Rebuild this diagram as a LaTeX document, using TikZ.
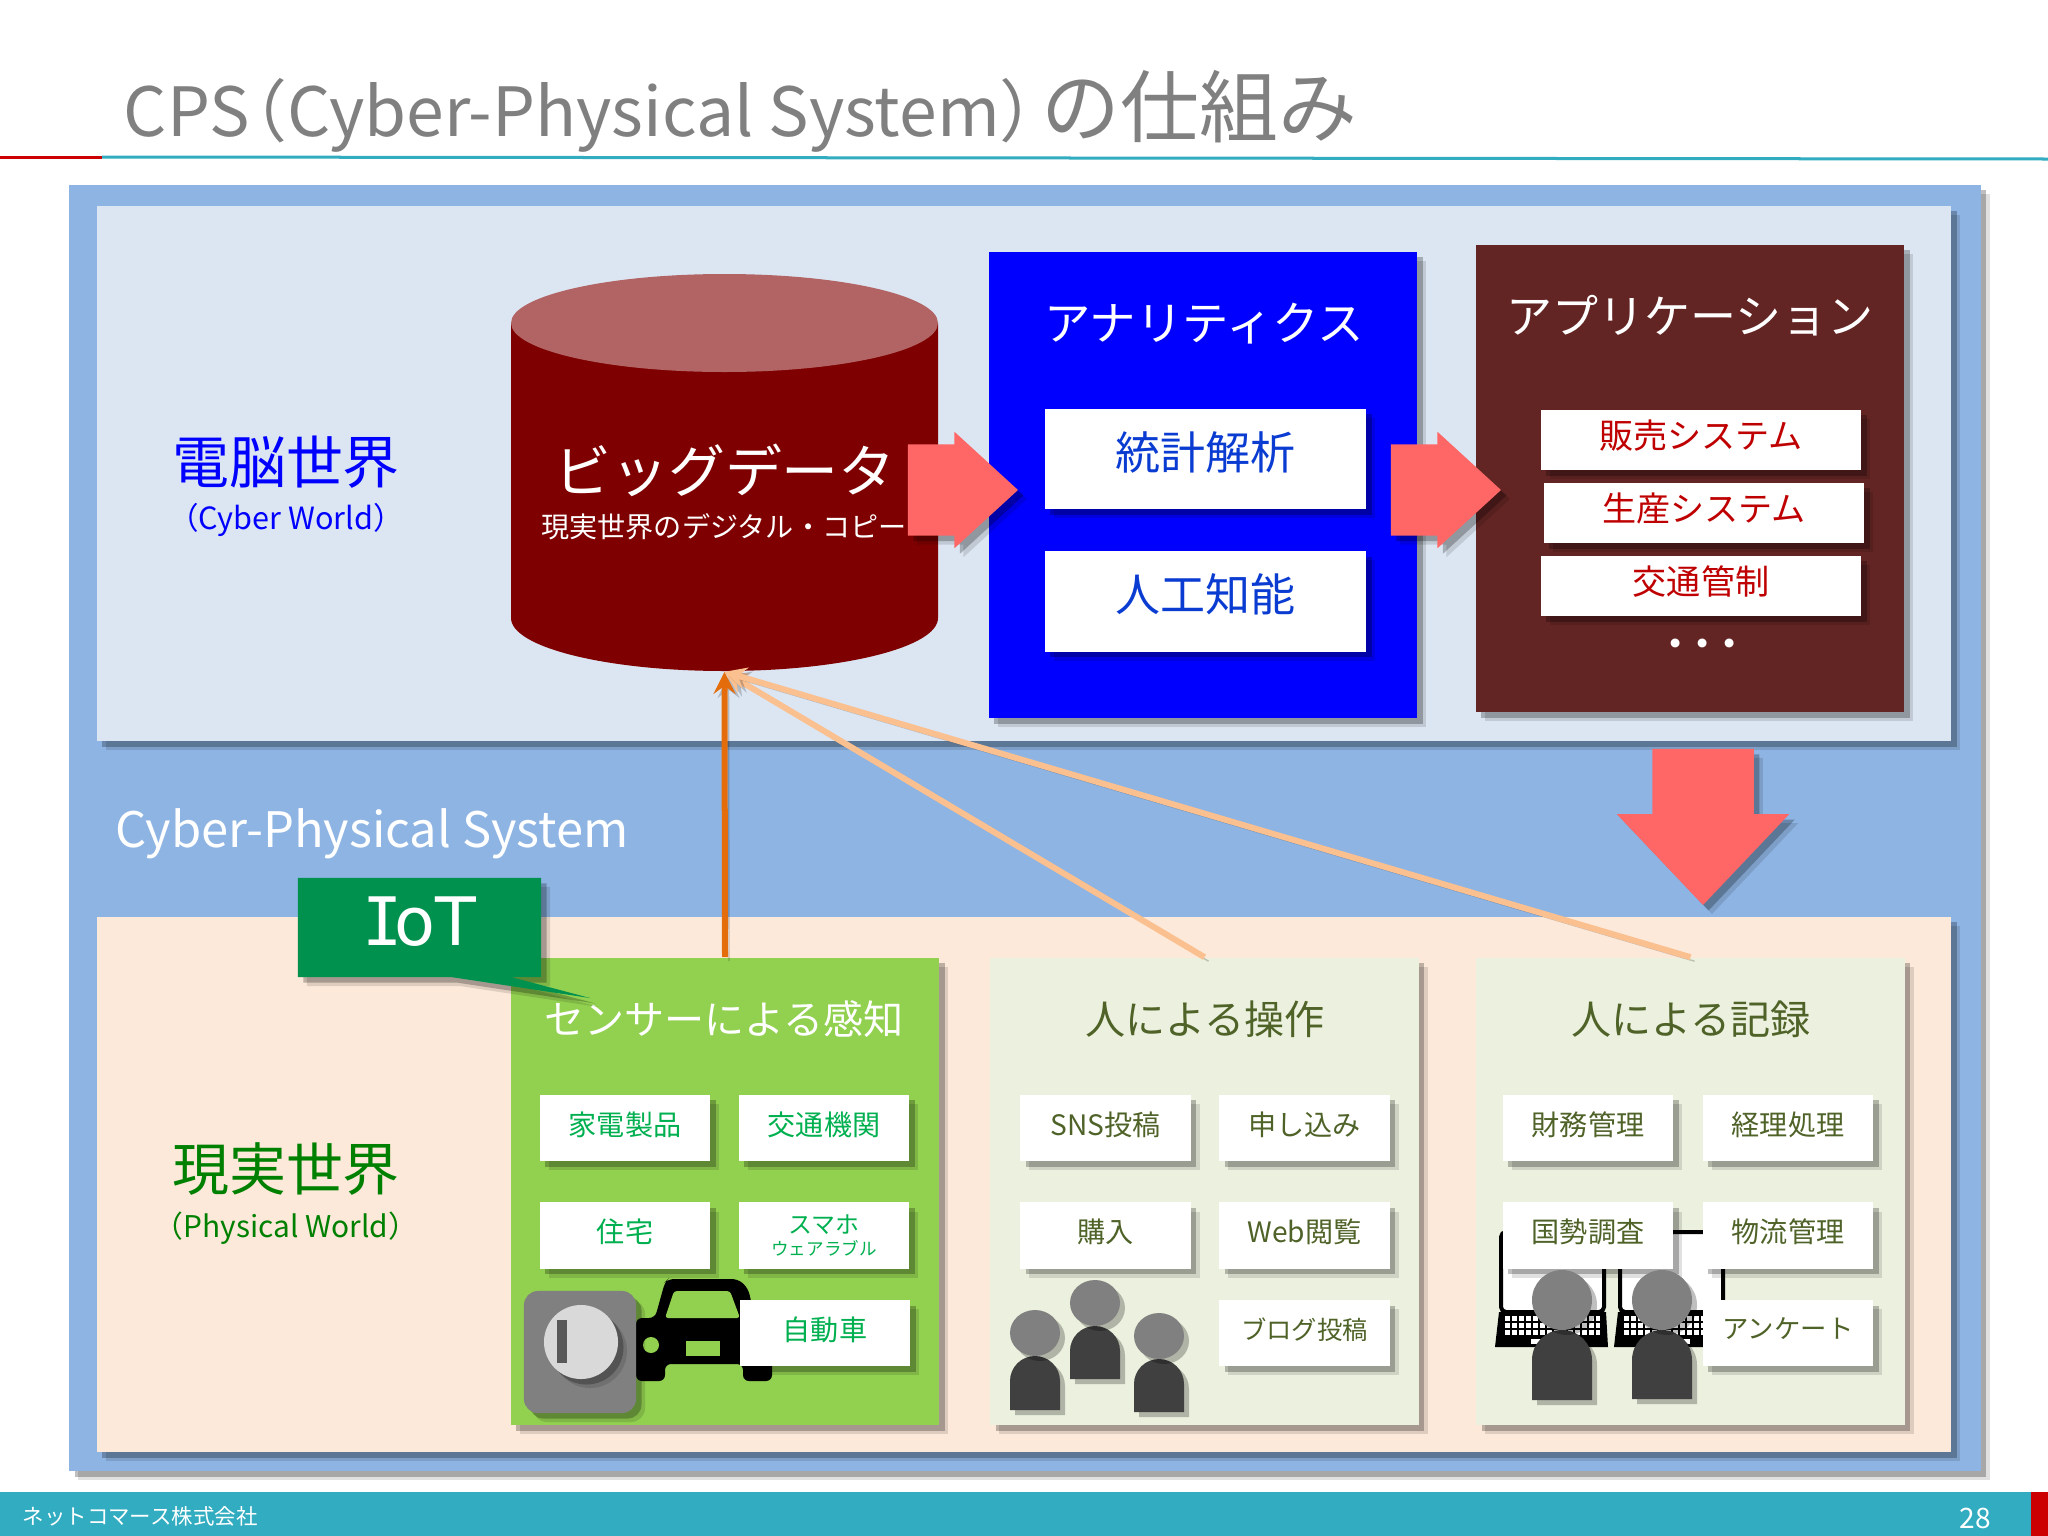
\documentclass[tikz,border=0pt]{standalone}
\usepackage{fontspec}
\setmainfont{Noto Sans CJK JP}
\newfontfamily\monoi{DejaVu Sans Mono}
\newfontfamily\verd{DejaVu Sans}
\usetikzlibrary{shapes.arrows,shapes.callouts,shadows}
\newcommand{\fsz}[1]{\fontsize{#1}{#1}\selectfont}
\definecolor{outerblue}{HTML}{8EB4E3}
\definecolor{cyberbg}{HTML}{DCE6F2}
\definecolor{physbg}{HTML}{FDE9D9}
\definecolor{sensorgreen}{HTML}{92D050}
\definecolor{humanbg}{HTML}{EBF1DE}
\definecolor{humantext}{HTML}{4F6228}
\definecolor{iotgreen}{HTML}{00914F}
\definecolor{itemgreen}{HTML}{00B050}
\definecolor{appbrown}{HTML}{632523}
\definecolor{dbred}{HTML}{7F0000}
\definecolor{dbtop}{HTML}{B26464}
\definecolor{flowred}{HTML}{FF6666}
\definecolor{bandteal}{HTML}{31ACC0}
\definecolor{sensororange}{HTML}{E46C0A}
\definecolor{humanorange}{HTML}{FAC090}
\definecolor{statblue}{HTML}{0A3CD2}
\begin{document}
\begin{tikzpicture}[x=0.01cm,y=-0.01cm,>=stealth]
        \tikzset{softshadow/.style={drop shadow={shadow xshift=0.09cm,shadow yshift=-0.09cm,fill=black,opacity=0.12}, drop shadow={shadow xshift=0.055cm,shadow yshift=-0.055cm,fill=black,opacity=0.25}}}
        \tikzset{linkshadow/.style={preaction={draw=black, opacity=0.2, transform canvas={xshift=0.04cm,yshift=-0.04cm}}}}
        \tikzset{panel/.style={minimum width=4.28cm, minimum height=4.67cm, inner sep=0pt, softshadow}}
        \tikzset{item/.style={fill=white, minimum width=1.70cm, minimum height=0.66cm, inner sep=0pt, align=center, font=\fsz{8}, text depth=2.7pt, softshadow}}
        \tikzset{bigbox/.style={fill=white, minimum width=3.21cm, minimum height=1.00cm, inner sep=0pt, text=statblue, font=\fsz{12.8}, text depth=5pt, softshadow}}
        \tikzset{appitem/.style={fill=white, minimum width=3.20cm, minimum height=0.60cm, inner sep=0pt, text=red!75!black, font=\fsz{9.7}, text depth=3.5pt, softshadow}}
        \tikzset{world/.style={minimum width=18.53cm, minimum height=5.35cm, inner sep=0pt, softshadow}}
        \tikzset{flow/.style={single arrow, fill=flowred, anchor=tip, softshadow}}
        \tikzset{person/.style={fill=black!75}}

        \fill[white] (0,0) rectangle (2048,1536);
        \useasboundingbox (0,0) rectangle (2048,1536);

        % title and rule
        \node[anchor=base west, inner sep=0pt, text=black!50, font=\fsz{19.3}] (title) at (123,136) {CPS\kern-0.45em（Cyber-Physical System）\kern-0.38em{\fsz{22.4}の仕組み}};
        \coordinate (rulea) at (0,157);
        \coordinate (ruleb) at (102,157);
        \coordinate (rulec) at (2048,159);
        \draw[red!80!black, line width=0.03cm] (rulea) -- (ruleb);
        \draw[bandteal, line width=0.03cm] (ruleb) -- (rulec);

        % footer
        \node[fill=bandteal, minimum width=20.48cm, minimum height=0.44cm, inner sep=0pt] (band) at (1024,1514) {};
        \node[fill=red!80!black, minimum width=0.17cm, minimum height=0.44cm, inner sep=0pt] (bandend) at (2039.5,1514) {};
        \node[anchor=west, inner sep=0pt, text=white, font=\fsz{6.1}] (company) at (22,1516) {ネットコマース株式会社};
        \node[text=white, inner sep=0pt, font=\fsz{8}] (page) at (1975,1518) {28};

        % worlds
        \node[fill=outerblue, minimum width=19.10cm, minimum height=12.86cm, inner sep=0pt, softshadow] (cps) at (1025,828) {};
        \node[world, fill=cyberbg] (cyber) at (1024,473.5) {};
        \node[world, fill=physbg] (physical) at (1024,1184.5) {};
        \node[text=white, font=\fsz{13.9}, inner sep=0pt] (cpslabel) at (372,834) {Cyber-Physical System};

        \node[text=blue, font=\fsz{16.2}, inner sep=0pt] (cyberjp) at (286,462) {電脳世界};
        \node[text=blue, font=\fsz{8.7}, inner sep=0pt] (cyberen) at (286,520) {（Cyber World）};
        \node[text=green!50!black, font=\fsz{16.2}, inner sep=0pt] (physjp) at (286,1169) {現実世界};
        \node[text=green!50!black, font=\fsz{8.5}, inner sep=0pt] (physen) at (286,1228) {（Physical World）};

        % big data
        \node[minimum width=4.27cm, minimum height=3.97cm, inner sep=0pt] (bigdata) at (724.5,472.5) {};
        \fill[dbred] (511,323) -- (511,618) arc (180:0:213.5 and 53) -- (938,323) -- cycle;
        \fill[dbtop] (724.5,323) ellipse (213.5 and 49);
        \node[text=white, font=\fsz{16.2}, inner sep=0pt] (bigdatatitle) at (725,470) {ビッグデータ};
        \node[text=white, font=\fsz{8}, inner sep=0pt] (bigdatasub) at (724,527) {現実世界のデジタル・コピー};

        % analytics
        \node[fill=blue, minimum width=4.28cm, minimum height=4.66cm, inner sep=0pt, softshadow] (analytics) at (1203,485) {};
        \node[text=white, font=\fsz{13.2}, inner sep=0pt] (analyticstitle) at (1204,324) {アナリティクス};
        \node[bigbox] (stats) at (1205.5,459) {統計解析};
        \node[bigbox] (ai) at (1205.5,601.5) {人工知能};

        % applications
        \node[fill=appbrown, minimum width=4.28cm, minimum height=4.67cm, inner sep=0pt, softshadow] (apps) at (1690,478.5) {};
        \node[text=white, font=\fsz{13.1}, inner sep=0pt] (appstitle) at (1690,316) {アプリケーション};
        \node[appitem] (sales) at (1701,440) {販売システム};
        \node[appitem] (factory) at (1704,513) {生産システム};
        \node[appitem] (traffic) at (1701,586) {交通管制};
        \node[text=white, font=\fsz{12}, inner sep=0pt] (more) at (1703,649) {・\kern-0.36em・\kern-0.36em・};

        % flows
        \node[flow, inner xsep=0pt, inner ysep=0.45cm, minimum height=1.10cm, single arrow head extend=0.125cm, single arrow tip angle=85] (flowa) at (1019,490) {};
        \node[flow, inner xsep=0pt, inner ysep=0.45cm, minimum height=1.10cm, single arrow head extend=0.125cm, single arrow tip angle=85] (flowb) at (1502,490) {};
        \node[flow, shape border rotate=270, inner ysep=0pt, inner xsep=0.50cm, minimum height=1.56cm, single arrow head extend=0.355cm, single arrow tip angle=87] (flowc) at (1703,906) {};

        % sensing panel
        \node[panel, fill=sensorgreen] (sensor) at (725,1191.5) {};
        \node[text=white, font=\fsz{11.4}, inner sep=0pt] (sensortitle) at (724,1019) {センサーによる感知};
        \node[item, text=itemgreen] (kaden) at (625,1128) {家電製品};
        \node[item, text=itemgreen] (transport) at (824,1128) {交通機関};
        \node[item, text=itemgreen] (house) at (625,1235.5) {住宅};
        \node[item, text=itemgreen, text depth={}] (phone) at (824,1235.5) {{\fsz{6.8}スマホ}\\[-1.5pt]{\fsz{5}ウェアラブル}};

        % car
        \fill[black, rounded corners=0.06cm] (636,1318) -- (655,1318) -- (665,1282) -- (668,1279) -- (738,1279) -- (748,1288) -- (755,1318) -- (772,1318) -- (772,1381) -- (743,1381) -- (743,1364) -- (665,1364) -- (665,1381) -- (636,1381) -- cycle;
        \fill[sensorgreen, rounded corners=0.03cm] (665,1318) -- (674,1291) -- (730,1291) -- (740,1318) -- cycle;
        \fill[sensorgreen] (651,1345) circle (8);
        \fill[sensorgreen] (686,1341) rectangle (720,1356);
        \node[item, text=itemgreen] (car) at (825,1333) {自動車};

        % key switch
        \node[fill=black!50, rounded corners=0.14cm, minimum width=1.12cm, minimum height=1.22cm, inner sep=0pt, softshadow] (keybox) at (580,1352) {};
        \node[circle, fill=black!15, minimum size=0.74cm, inner sep=0pt, softshadow] (keydisc) at (581,1342) {};
        \node[fill=black!65, minimum width=0.10cm, minimum height=0.43cm, inner sep=0pt] (keyslot) at (562,1341.5) {};

        % people who operate
        \node[panel, fill=humanbg] (operate) at (1204.5,1191.5) {};
        \node[text=humantext, font=\fsz{11.4}, inner sep=0pt] (operatetitle) at (1205,1019) {人による操作};
        \node[item, text=humantext] (sns) at (1105.5,1128) {SNS投稿};
        \node[item, text=humantext] (apply) at (1304.5,1128) {申し込み};
        \node[item, text=humantext] (buy) at (1105.5,1235.5) {購入};
        \node[item, text=humantext] (web) at (1304.5,1235.5) {Web閲覧};
        \node[item, text=humantext, font=\fsz{7.2}] (blog) at (1304.5,1333) {ブログ投稿};

        % people who record
        \node[panel, fill=humanbg] (record) at (1690.5,1191.5) {};
        \node[text=humantext, font=\fsz{11.4}, inner sep=0pt] (recordtitle) at (1691,1019) {人による記録};

        % laptops
        \foreach \lx in {1501,1620} {
            \draw[line width=0.04cm, fill=white, rounded corners=0.05cm] (\lx,1232) rectangle (\lx+103,1312);
            \fill[black] (\lx-2,1312) -- (\lx+105,1312) -- (\lx+107,1347) -- (\lx-6,1347) -- cycle;
            \foreach \ky in {1318,1325,1332} {
                \draw[white, line width=0.05cm, dash pattern=on 0.05cm off 0.02cm] (\lx+4,\ky) -- (\lx+99,\ky);
            }
            \fill[white] (\lx+30,1339) rectangle (\lx+70,1344);
        }

        \node[item, text=humantext] (money) at (1588,1128) {財務管理};
        \node[item, text=humantext] (account) at (1788,1128) {経理処理};
        \node[item, text=humantext] (census) at (1588,1235.5) {国勢調査};
        \node[item, text=humantext] (logistics) at (1788,1235.5) {物流管理};
        \node[item, text=humantext, font=\fsz{7.5}] (survey) at (1788,1333) {アンケート};

        % people
        \foreach \cx/\hy/\rx/\ry/\by in {1035/1333/25/23/1410, 1095/1303/25/23/1379, 1159/1336/25/23/1412, 1562/1300/30/30/1400, 1662/1300/30/30/1399} {
            \fill[person, drop shadow={shadow xshift=0.05cm,shadow yshift=-0.05cm,fill=black,opacity=0.25}] (\cx-\rx,\by) -- (\cx-\rx,\hy+\ry+\rx) arc (180:360:\rx) -- (\cx+\rx,\by) -- cycle;
            \fill[black!50, drop shadow={shadow xshift=0.05cm,shadow yshift=-0.05cm,fill=black,opacity=0.25}] (\cx,\hy) ellipse ({\rx} and {\ry});
        }

        % IoT
        \node[rectangle callout, fill=iotgreen, minimum width=2.43cm, minimum height=0.99cm, inner sep=0pt, callout absolute pointer={(590,998)}, callout pointer width=0.6cm, softshadow, text=white, font=\fsz{19}, text depth=3.6pt] (iot) at (419.5,927.5) {{\monoi I}\kern-0.12em{\verd oT}};

        % connectors
        \draw[->, sensororange, line width=0.06cm, linkshadow] (sensor.north) -- (bigdata.south);
        \draw[->, humanorange, line width=0.06cm, linkshadow] (operate.north) -- (bigdata.south);
        \draw[->, humanorange, line width=0.06cm, linkshadow] (record.north) -- (bigdata.south);
    \end{tikzpicture}
\end{document}
